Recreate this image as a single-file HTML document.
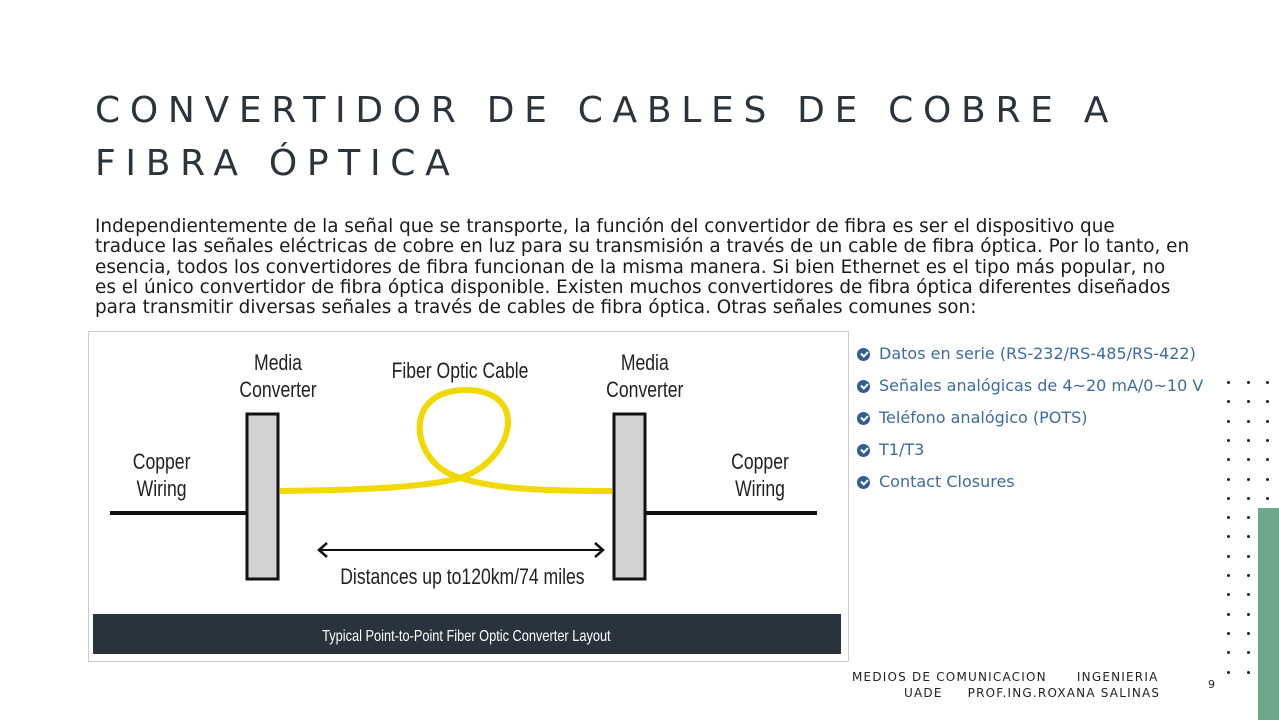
<!DOCTYPE html>
<html><head><meta charset="utf-8"><style>
body{margin:0;width:1279px;height:720px;background:#fff;position:relative;overflow:hidden;font-family:"DejaVu Sans","Liberation Sans",sans-serif}
.t{position:absolute;left:95px;top:84px;font-size:36px;letter-spacing:9.7px;line-height:53px;color:#2b333b;white-space:nowrap}
.p{position:absolute;left:95px;top:217px;font-size:18.4px;line-height:20.3px;color:#1a1a1a;white-space:nowrap}
.li{position:absolute;left:857px;font-size:16px;color:#3d6aa5;white-space:nowrap}
.li i{display:inline-block;width:13px;height:13px;border-radius:50%;background:#2f5f96;vertical-align:-2px;margin-right:9px;position:relative}
.li i:after{content:"";position:absolute;left:3.5px;top:3px;width:5px;height:3px;border-left:2px solid #fff;border-bottom:2px solid #fff;transform:rotate(-45deg)}
.f{position:absolute;font-size:12px;letter-spacing:1.2px;color:#222;white-space:nowrap}
.d{position:absolute;width:3px;height:3px;background:#222;border-radius:50%}
</style></head><body>
<div class="t">CONVERTIDOR DE CABLES DE COBRE A<br>FIBRA ÓPTICA</div>
<div class="p">Independientemente de la señal que se transporte, la función del convertidor de fibra es ser el dispositivo que<br>traduce las señales eléctricas de cobre en luz para su transmisión a través de un cable de fibra óptica. Por lo tanto, en<br>esencia, todos los convertidores de fibra funcionan de la misma manera. Si bien Ethernet es el tipo más popular, no<br>es el único convertidor de fibra óptica disponible. Existen muchos convertidores de fibra óptica diferentes diseñados<br>para transmitir diversas señales a través de cables de fibra óptica. Otras señales comunes son:</div>
<svg style="position:absolute;left:0;top:0" width="1279" height="720">
<rect x="88.5" y="331.5" width="760" height="330" fill="#fff" stroke="#ccc"/>
<g font-family="Liberation Sans,sans-serif" font-size="22" fill="#222" text-anchor="middle" transform="scale(0.8,1)">
<text x="347.5" y="370">Media</text><text x="347.5" y="397">Converter</text>
<text x="806" y="370">Media</text><text x="806" y="397">Converter</text>
<text x="575" y="378">Fiber Optic Cable</text>
<text x="202" y="469">Copper</text><text x="202" y="496">Wiring</text>
<text x="950" y="469">Copper</text><text x="950" y="496">Wiring</text>
<text x="578" y="584">Distances up to120km/74 miles</text>
</g>
<line x1="110" y1="513" x2="246" y2="513" stroke="#111" stroke-width="4"/>
<line x1="646" y1="513" x2="817" y2="513" stroke="#111" stroke-width="4"/>
<rect x="247" y="414" width="31" height="165" fill="#d2d2d2" stroke="#111" stroke-width="3"/>
<rect x="614" y="414" width="31" height="165" fill="#d2d2d2" stroke="#111" stroke-width="3"/>
<path d="M280,491 C370,490 425,487 460,478 C515,460 530,390 466,390 C404,390 410,455 450,474 C485,489 540,491 612,491" fill="none" stroke="#f0d800" stroke-width="6"/>
<line x1="320" y1="550" x2="602" y2="550" stroke="#111" stroke-width="2"/>
<path d="M327,543 L319,550 L327,557 M595,543 L603,550 L595,557" fill="none" stroke="#111" stroke-width="2.5"/>
<rect x="93" y="614" width="748" height="40" fill="#2a323c"/>
<text x="583" y="641" transform="scale(0.8,1)" font-family="Liberation Sans,sans-serif" font-size="16" fill="#fff" text-anchor="middle">Typical Point-to-Point Fiber Optic Converter Layout</text>
<rect x="1258" y="508" width="21" height="212" fill="#6fa98d"/>
</svg>
<div class="li" style="top:344px"><i></i>Datos en serie (RS-232/RS-485/RS-422)</div>
<div class="li" style="top:376px"><i></i>Señales analógicas de 4~20 mA/0~10 V</div>
<div class="li" style="top:408px"><i></i>Teléfono analógico (POTS)</div>
<div class="li" style="top:440px"><i></i>T1/T3</div>
<div class="li" style="top:472px"><i></i>Contact Closures</div>
<div class="f" style="left:852px;top:670px">MEDIOS DE COMUNICACION &nbsp;&nbsp;&nbsp;&nbsp;&nbsp;INGENIERIA</div>
<div class="f" style="left:904px;top:686px">UADE &nbsp;&nbsp;&nbsp;&nbsp;PROF.ING.ROXANA SALINAS</div>
<div class="f" style="left:1208px;top:678px;font-size:11px">9</div>
<div id="dots"></div>
<script>
var h='';for(var r=0;r<16;r++){var y=381+r*19.3;for(var c=0;c<3;c++){if(c==2&&r>6)continue;h+='<div class="d" style="left:'+(1227+c*19.5)+'px;top:'+y+'px"></div>';}}
document.getElementById('dots').innerHTML=h;
</script>
</body></html>
